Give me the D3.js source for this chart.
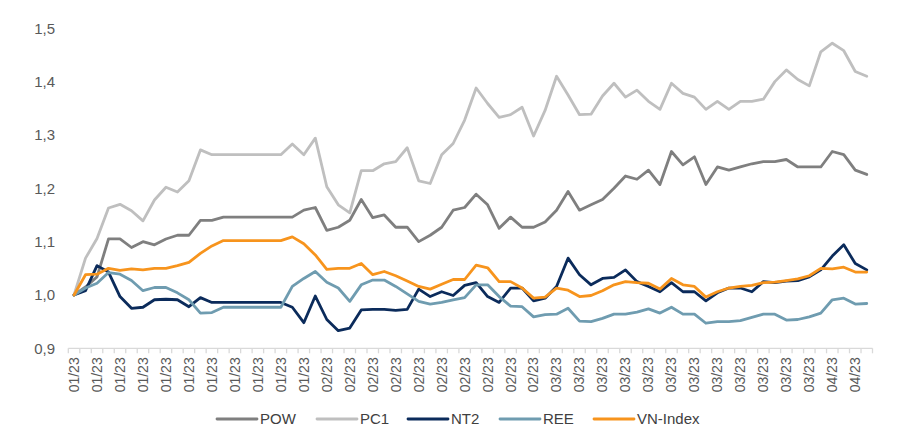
<!DOCTYPE html>
<html>
<head>
<meta charset="utf-8">
<script src="https://cdn.jsdelivr.net/npm/d3@7"></script>
<style>
  html, body { margin: 0; padding: 0; background: #ffffff; }
  svg { display: block; font-family: "Liberation Sans", Arial, sans-serif; }
</style>
</head>
<body>
<svg id="chart" width="900" height="442"></svg>
<script>
const categories = [
  "01/23","01/23","01/23","01/23","01/23","01/23","01/23","01/23","01/23","01/23","01/23",
  "01/23","01/23","01/23","01/23","01/23","01/23","01/23","01/23","01/23","01/23","01/23",
  "02/23","02/23","02/23","02/23","02/23","02/23","02/23","02/23","02/23","02/23",
  "02/23","02/23","02/23","02/23","02/23","02/23","02/23","02/23","02/23","02/23",
  "03/23","03/23","03/23","03/23","03/23","03/23","03/23","03/23","03/23","03/23","03/23","03/23",
  "03/23","03/23","03/23","03/23","03/23","03/23","03/23","03/23","03/23","03/23","03/23",
  "04/23","04/23","04/23","04/23","04/23"
];

const seriesNames = ["POW", "PC1", "NT2", "REE", "VN-Index"];

const POW = [1.0,1.015,1.034,1.105,1.105,1.089,1.10,1.094,1.105,1.112,1.112,1.14,1.14,1.146,1.146,1.146,1.146,1.146,1.146,1.146,1.159,1.164,
  1.121,1.127,1.14,1.179,1.145,1.15,1.127,1.127,1.10,1.112,1.127,1.159,1.164,1.189,1.169,1.125,1.146,1.127,1.127,1.137,
  1.159,1.194,1.159,1.169,1.179,1.20,1.223,1.217,1.234,1.207,1.269,1.244,1.259,1.207,1.24,1.234,1.24,1.246,1.25,1.25,1.254,1.24,1.24,
  1.24,1.269,1.263,1.234,1.226];

const PC1 = [1.0,1.069,1.106,1.163,1.170,1.158,1.139,1.178,1.202,1.193,1.214,1.272,1.263,1.263,1.263,1.263,1.263,1.263,1.263,1.283,1.263,1.294,
  1.203,1.169,1.154,1.233,1.233,1.246,1.250,1.276,1.214,1.209,1.263,1.284,1.328,1.388,1.359,1.333,1.338,1.352,1.298,1.346,
  1.410,1.375,1.338,1.339,1.373,1.397,1.371,1.384,1.363,1.348,1.397,1.378,1.371,1.348,1.363,1.348,1.363,1.363,1.367,1.400,1.422,1.404,1.392,
  1.456,1.472,1.458,1.419,1.410];

const NT2 = [1.0,1.008,1.055,1.043,0.997,0.975,0.977,0.991,0.992,0.991,0.978,0.995,0.986,0.986,0.986,0.986,0.986,0.986,0.986,0.977,0.948,0.998,
  0.954,0.933,0.938,0.972,0.973,0.973,0.971,0.973,1.011,0.997,1.006,0.999,1.018,1.023,0.997,0.986,1.013,1.013,0.989,0.994,
  1.016,1.069,1.038,1.019,1.031,1.033,1.047,1.025,1.016,1.006,1.023,1.006,1.006,0.989,1.004,1.013,1.013,1.006,1.025,1.023,1.026,1.027,1.034,
  1.047,1.073,1.094,1.059,1.047];

const REE = [1.0,1.013,1.022,1.042,1.039,1.027,1.008,1.014,1.014,1.004,0.991,0.966,0.967,0.977,0.977,0.977,0.977,0.977,0.977,1.016,1.031,1.044,
  1.024,1.013,0.988,1.019,1.028,1.028,1.016,1.002,0.988,0.983,0.986,0.991,0.995,1.019,1.019,0.997,0.979,0.978,0.959,0.963,
  0.964,0.975,0.951,0.950,0.956,0.964,0.964,0.968,0.974,0.966,0.977,0.964,0.964,0.947,0.950,0.950,0.952,0.958,0.964,0.964,0.953,0.954,0.959,
  0.966,0.991,0.994,0.983,0.984];

const VNINDEX = [1.0,1.038,1.039,1.05,1.046,1.049,1.047,1.05,1.05,1.055,1.061,1.078,1.092,1.102,1.102,1.102,1.102,1.102,1.102,1.109,1.096,1.075,
  1.048,1.05,1.05,1.059,1.038,1.044,1.036,1.026,1.016,1.011,1.02,1.029,1.029,1.056,1.051,1.025,1.025,1.013,0.994,0.996,
  1.013,1.009,0.997,0.999,1.008,1.019,1.025,1.023,1.022,1.011,1.031,1.019,1.016,0.996,1.006,1.013,1.016,1.018,1.023,1.024,1.027,1.03,1.036,
  1.05,1.049,1.052,1.043,1.043];

const yTicks = [0.9, 1.0, 1.1, 1.2, 1.3, 1.4, 1.5];

const colors = ["#7F7F7F", "#BFBFBF", "#0B2B5B", "#6F9CB0", "#F7941D"];
const seriesValues = [POW, PC1, NT2, REE, VNINDEX];

const svg = d3.select("#chart");

const idx = categories.map((d, i) => i);
const x = d3.scaleBand().domain(idx).range([68.3, 872.5]).paddingInner(0).paddingOuter(0);
const cx = i => x(i) + x.bandwidth() / 2;
const y = d3.scaleLinear().domain([0.9, 1.5]).range([348.3, 28.3]);

const fmt = v => d3.format(".1f")(v).replace(".", ",");

// Y axis labels
const yAxis = svg.append("g")
  .attr("transform", "translate(68,0)")
  .call(d3.axisLeft(y).tickValues(yTicks).tickSize(0).tickPadding(13).tickFormat(fmt));
yAxis.select(".domain").remove();
yAxis.selectAll("text").attr("font-size", 15).attr("fill", "#595959")
  .attr("font-family", "'Liberation Sans', Arial, sans-serif");

// X axis line
const xg = svg.append("g").attr("transform", `translate(0,${y(0.9)})`);
xg.append("line").attr("x1", x.range()[0]).attr("x2", x.range()[1])
  .attr("y1", 0).attr("y2", 0).attr("stroke", "#D9D9D9").attr("stroke-width", 1.3);
const bounds = idx.map(i => x(i)).concat([x.range()[1]]);
xg.selectAll("line.tick").data(bounds).enter().append("line")
  .attr("class", "tick")
  .attr("x1", d => d).attr("x2", d => d).attr("y1", 0).attr("y2", 5)
  .attr("stroke", "#D9D9D9").attr("stroke-width", 1.3);

// X labels (every other category)
const labelIdx = idx.filter(i => i % 2 === 0);
const xAxis = svg.append("g")
  .attr("transform", `translate(0,${y(0.9)})`)
  .call(d3.axisBottom(x).tickValues(labelIdx).tickSize(0).tickPadding(0).tickFormat(i => categories[i]));
xAxis.select(".domain").remove();
xAxis.selectAll(".tick text")
  .attr("font-size", 14)
  .attr("fill", "#595959")
  .attr("font-family", "'Liberation Sans', Arial, sans-serif")
  .attr("text-anchor", "end")
  .attr("dy", "0.35em")
  .attr("transform", "translate(0,9) rotate(-90)")
  .attr("x", 0).attr("y", 0);

// Lines
const line = d3.line().x((d, i) => cx(i)).y(d => y(d));
seriesValues.forEach((vals, s) => {
  svg.append("path")
    .datum(vals)
    .attr("d", line)
    .attr("fill", "none")
    .attr("stroke", colors[s])
    .attr("stroke-width", 2.8)
    .attr("stroke-linejoin", "round")
    .attr("stroke-linecap", "round");
});

// Legend
const legendX = [217, 317, 408, 500, 594];
const lg = svg.append("g").attr("transform", "translate(0,419)");
seriesNames.forEach((name, s) => {
  lg.append("line").attr("x1", legendX[s]).attr("x2", legendX[s] + 40)
    .attr("y1", 0).attr("y2", 0).attr("stroke", colors[s]).attr("stroke-width", 2.8)
    .attr("stroke-linecap", "round");
  lg.append("text").attr("x", legendX[s] + 43).attr("y", 0).attr("dy", "0.35em")
    .attr("font-size", 15).attr("fill", "#404040")
    .attr("font-family", "'Liberation Sans', Arial, sans-serif")
    .text(name);
});
</script>
</body>
</html>
